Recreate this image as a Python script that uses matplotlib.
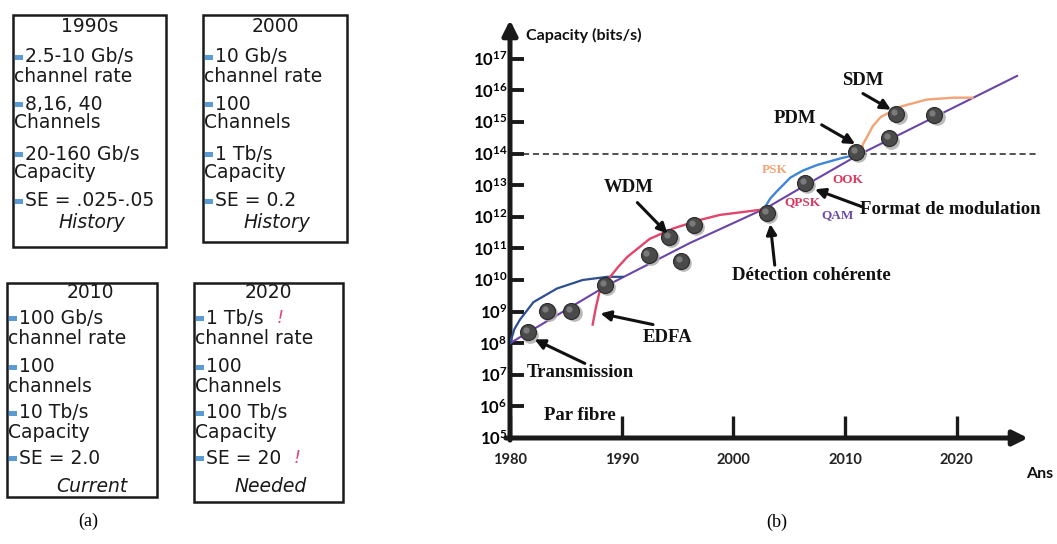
import numpy as np
import matplotlib
matplotlib.use('Agg')
import matplotlib.pyplot as plt
from matplotlib.patches import Rectangle
from matplotlib.ticker import NullLocator, FixedLocator
from matplotlib.transforms import offset_copy

plt.rcParams['mathtext.fontset'] = 'custom'
plt.rcParams['mathtext.rm'] = 'Lato'
plt.rcParams['mathtext.bf'] = 'Lato:bold'

# ------------------------------------------------------------------ data (a)
box_titles = ['1990s', '2000', '2010', '2020']
box_heads = [
    ['2.5-10 Gb/s', '8,16, 40', '20-160 Gb/s', 'SE = .025-.05'],
    ['10 Gb/s', '100', '1 Tb/s', 'SE = 0.2'],
    ['100 Gb/s', '100', '10 Tb/s', 'SE = 2.0'],
    ['1 Tb/s', '100', '100 Tb/s', 'SE = 20'],
]
box_tails = [
    ['channel rate', 'Channels', 'Capacity', ''],
    ['channel rate', 'Channels', 'Capacity', ''],
    ['channel rate', 'channels', 'Capacity', ''],
    ['channel rate', 'Channels', 'Capacity', ''],
]
box_flags = [
    [False, False, False, False],
    [False, False, False, False],
    [False, False, False, False],
    [True, False, False, True],
]
box_footers = ['History', 'History', 'Current', 'Needed']

# ------------------------------------------------------------------ data (b)
# main trend (purple)
trend_years = [1980, 1988.7, 1996.1, 2003.0, 2006.6, 2011.1, 2014.0, 2025.4]
trend_exp = [8.0, 9.83, 11.17, 12.29, 13.03, 13.94, 14.45, 16.46]
# early transmission curve (navy)
trans_years = [1980, 1980.4, 1980.9, 1982.1, 1984.2, 1986.5, 1988.7, 1990.1]
trans_exp = [8.0, 8.45, 8.75, 9.3, 9.73, 10.0, 10.1, 10.1]
# WDM / EDFA curve (red)
wdm_years = [1987.4, 1987.7, 1988.0, 1988.9, 1989.7, 1990.5, 1992.5, 1994.6, 1997.0, 1998.8, 2002.6]
wdm_exp = [8.59, 9.15, 9.6, 10.07, 10.42, 10.73, 11.3, 11.63, 11.9, 12.06, 12.23]
# coherent detection curve (blue)
coh_years = [2002.8, 2003.3, 2003.9, 2005.1, 2006.2, 2007.5, 2009.6, 2011.4]
coh_exp = [12.29, 12.58, 12.81, 13.24, 13.46, 13.64, 13.85, 14.0]
# SDM curve (orange)
sdm_years = [2011.4, 2011.6, 2012.0, 2012.5, 2013.2, 2014.9, 2017.3, 2019.7, 2021.4]
sdm_exp = [14.0, 14.3, 14.55, 14.88, 15.16, 15.48, 15.71, 15.77, 15.77]
# experimental points
dot_years = [1981.6, 1983.3, 1985.5, 1988.5, 1992.4, 1994.2, 1995.3, 1996.5,
             2003.0, 2006.4, 2011.0, 2013.9, 2014.6, 2018.0]
dot_exp = [8.34, 9.03, 9.03, 9.83, 10.8, 11.37, 10.6, 11.73,
           12.13, 13.06, 14.06, 14.48, 15.25, 15.22]
threshold_exp = 14

# annotations: label, text (year, exp), arrow tail, arrow tip
ann_labels = ['WDM', 'EDFA', 'Transmission', 'Détection cohérente',
              'Format de modulation', 'PDM', 'SDM']
ann_text_pos = [(1990.6, 12.94), (1994.1, 8.19), (1986.3, 7.06), (2007.0, 10.13),
                (2019.4, 12.23), (2005.5, 15.1), (2011.6, 16.31)]
ann_tail = [(1991.4, 12.45), (1992.8, 8.59), (1986.7, 7.36), (2003.7, 10.47),
            (2011.5, 12.32), (2007.9, 14.91), (2011.6, 15.9)]
ann_tip = [(1994.1, 11.47), (1988.1, 8.94), (1982.2, 8.12), (2003.3, 11.77),
           (2007.3, 12.87), (2010.9, 14.3), (2014.1, 15.39)]

mod_labels = ['PSK', 'OOK', 'QPSK', 'QAM']
mod_pos = [(2003.7, 13.48), (2010.2, 13.15), (2006.2, 12.45), (2009.3, 12.06)]
mod_colors = ['#f2a477', '#d8385f', '#d8385f', '#6a4aa8']

x_ticks = [1980, 1990, 2000, 2010, 2020]
y_tick_exp = list(range(5, 18))

# ------------------------------------------------------------------ figure
W, H = 1057, 544
fig = plt.figure(figsize=(W / 100, H / 100), dpi=100)
fig.patch.set_facecolor('white')

# overlay axes in pixel coordinates for panel (a)
axa = fig.add_axes([0, 0, 1, 1])
axa.set_xlim(0, W)
axa.set_ylim(H, 0)
axa.axis('off')

box_rects = [(13, 15, 166, 247), (203, 15, 347, 242),
             (7, 283, 157, 497), (194, 283, 343, 502)]
row_offsets = [[11, 42, 61, 89, 108, 139, 157, 186, 208],
               [10, 35, 56, 84, 103, 130, 149, 175, 204]]
title_dx = [0, 0, 8, 0]

sans = 'DejaVu Sans'
fs_box = 13.5
for b in range(4):
    l, t, r, btm = box_rects[b]
    axa.add_patch(Rectangle((l, t), r - l, btm - t, fill=False, ec='#1a1a1a', lw=1.8))
    offs = row_offsets[0 if b < 2 else 1]
    cx = (l + r) / 2
    axa.text(cx + title_dx[b], t + offs[0], box_titles[b], ha='center', va='center',
             fontsize=fs_box, family=sans, color='#1a1a1a')
    for i in range(4):
        yh = t + offs[1 + 2 * i]
        axa.add_patch(Rectangle((l + 2, yh - 2), 8, 5, color='#5b9bd5', lw=0))
        th = axa.text(l + 12, yh, box_heads[b][i], ha='left', va='center',
                      fontsize=fs_box, family=sans, color='#1a1a1a')
        if box_flags[b][i]:
            axa.annotate('!', xy=(1, 0.5), xycoords=th, xytext=(9, 0),
                         textcoords='offset points', ha='left', va='center',
                         fontsize=fs_box - 1, family=sans, style='italic',
                         color='#e0457a')
        if box_tails[b][i]:
            axa.text(l + 1, t + offs[2 + 2 * i], box_tails[b][i], ha='left',
                     va='center', fontsize=fs_box, family=sans, color='#1a1a1a')
    axa.text(cx + 2 + title_dx[b], t + offs[8], box_footers[b], ha='center',
             va='center', fontsize=fs_box, family=sans, style='italic',
             color='#1a1a1a')

axa.text(88, 521, '(a)', ha='center', va='center', fontsize=13,
         family='Liberation Serif')
axa.text(777, 522, '(b)', ha='center', va='center', fontsize=13,
         family='Liberation Serif')

# ------------------------------------------------------------------ panel (b)
x0, x1 = 510, 1028
y0, y1 = 438, 20
ax = fig.add_axes([x0 / W, (H - y0) / H, (x1 - x0) / W, (y0 - y1) / H])
ax.set_facecolor('none')
ax.set_yscale('log')
ax.set_xlim(1980, 1980 + (x1 - x0) / 11.17)
ax.set_ylim(1e5, 10 ** (5 + (y0 - y1) / 31.6))
for s in ax.spines.values():
    s.set_visible(False)

arrow_axis = dict(arrowstyle='-|>', color='#1a1a1a', lw=3.6, mutation_scale=22,
                  shrinkA=0, shrinkB=0)
ax.annotate('', xy=(1, 0), xytext=(-0.008, 0), xycoords='axes fraction',
            arrowprops=arrow_axis, annotation_clip=False)
ax.annotate('', xy=(0, 1), xytext=(0, -0.005), xycoords='axes fraction',
            arrowprops=arrow_axis, annotation_clip=False)

ax.yaxis.set_major_locator(FixedLocator([10.0 ** e for e in y_tick_exp]))
ax.yaxis.set_minor_locator(NullLocator())
ax.set_yticklabels([r'$\mathbf{10^{%d}}$' % e for e in y_tick_exp])
ax.set_xticks(x_ticks)
ax.set_xticklabels([str(v) for v in x_ticks])
ax.tick_params(axis='y', direction='in', length=10, width=2.8, color='#1a1a1a',
               pad=2, labelsize=12)
ax.tick_params(axis='x', direction='in', length=16, width=2.4, color='#1a1a1a',
               pad=11)
for lab in ax.get_xticklabels():
    lab.set_family('Lato')
    lab.set_weight('bold')
    lab.set_fontsize(10.5)
    lab.set_color('#222222')

# threshold line
ax.plot([1981.2, 2027.3], [10.0 ** threshold_exp] * 2, ls=(0, (4, 2.5)),
        color='#222222', lw=1.1, clip_on=False, zorder=2)

# curves
ax.plot(trend_years, 10 ** np.array(trend_exp), color='#6b44a8', lw=1.5, zorder=3)
ax.plot(trans_years, 10 ** np.array(trans_exp), color='#2c4f8f', lw=1.6, zorder=3)
ax.plot(wdm_years, 10 ** np.array(wdm_exp), color='#e2456b', lw=1.7, zorder=3)
ax.plot(coh_years, 10 ** np.array(coh_exp), color='#3f86d6', lw=1.7, zorder=3)
ax.plot(sdm_years, 10 ** np.array(sdm_exp), color='#f2a477', lw=1.7, zorder=3)

# dots with shadow and highlight
dv = 10 ** np.array(dot_exp)
ax.plot(dot_years, dv, 'o', ms=12, mfc='#a8a8a8', mec='none', alpha=0.8,
        transform=offset_copy(ax.transData, fig, x=1.5, y=-1.5, units='points'),
        zorder=4)
ax.plot(dot_years, dv, 'o', ms=11.5, mfc='#4a4a4a', mec='#2a2a2a', mew=0.8, zorder=5)
ax.plot(dot_years, dv, 'o', ms=4.5, mfc='#7a7a7a', mec='none',
        transform=offset_copy(ax.transData, fig, x=-1.5, y=1.5, units='points'),
        zorder=6)

# annotations
serif = 'Liberation Serif'
arrow_lab = dict(arrowstyle='-|>', color='#111111', lw=2.2, mutation_scale=15,
                 shrinkA=0, shrinkB=0)
for lab, tp, ta, tip in zip(ann_labels, ann_text_pos, ann_tail, ann_tip):
    ax.text(tp[0], 10 ** tp[1], lab, ha='center', va='center', fontsize=13.5,
            family=serif, weight='bold', color='#111111', zorder=7)
    ax.annotate('', xy=(tip[0], 10 ** tip[1]), xytext=(ta[0], 10 ** ta[1]),
                arrowprops=arrow_lab, zorder=7)
ax.text(1986.3, 10 ** 5.71, 'Par fibre', ha='center', va='center', fontsize=13.5,
        family=serif, weight='bold', color='#111111')

for lab, p, c in zip(mod_labels, mod_pos, mod_colors):
    ax.text(p[0], 10 ** p[1], lab, ha='center', va='center', fontsize=9.5,
            family=serif, weight='bold', color=c, zorder=7)

ax.text(1981.4, 10 ** 17.74, 'Capacity (bits/s)', ha='left', va='center',
        fontsize=11.5, family='Lato', weight='bold', color='#111111', clip_on=False)
ax.text(2027.4, 10 ** 3.85, 'Ans', ha='center', va='center', fontsize=11.5,
        family='Lato', weight='bold', color='#111111', clip_on=False)

fig.savefig('out.png', dpi=100, facecolor='white')
